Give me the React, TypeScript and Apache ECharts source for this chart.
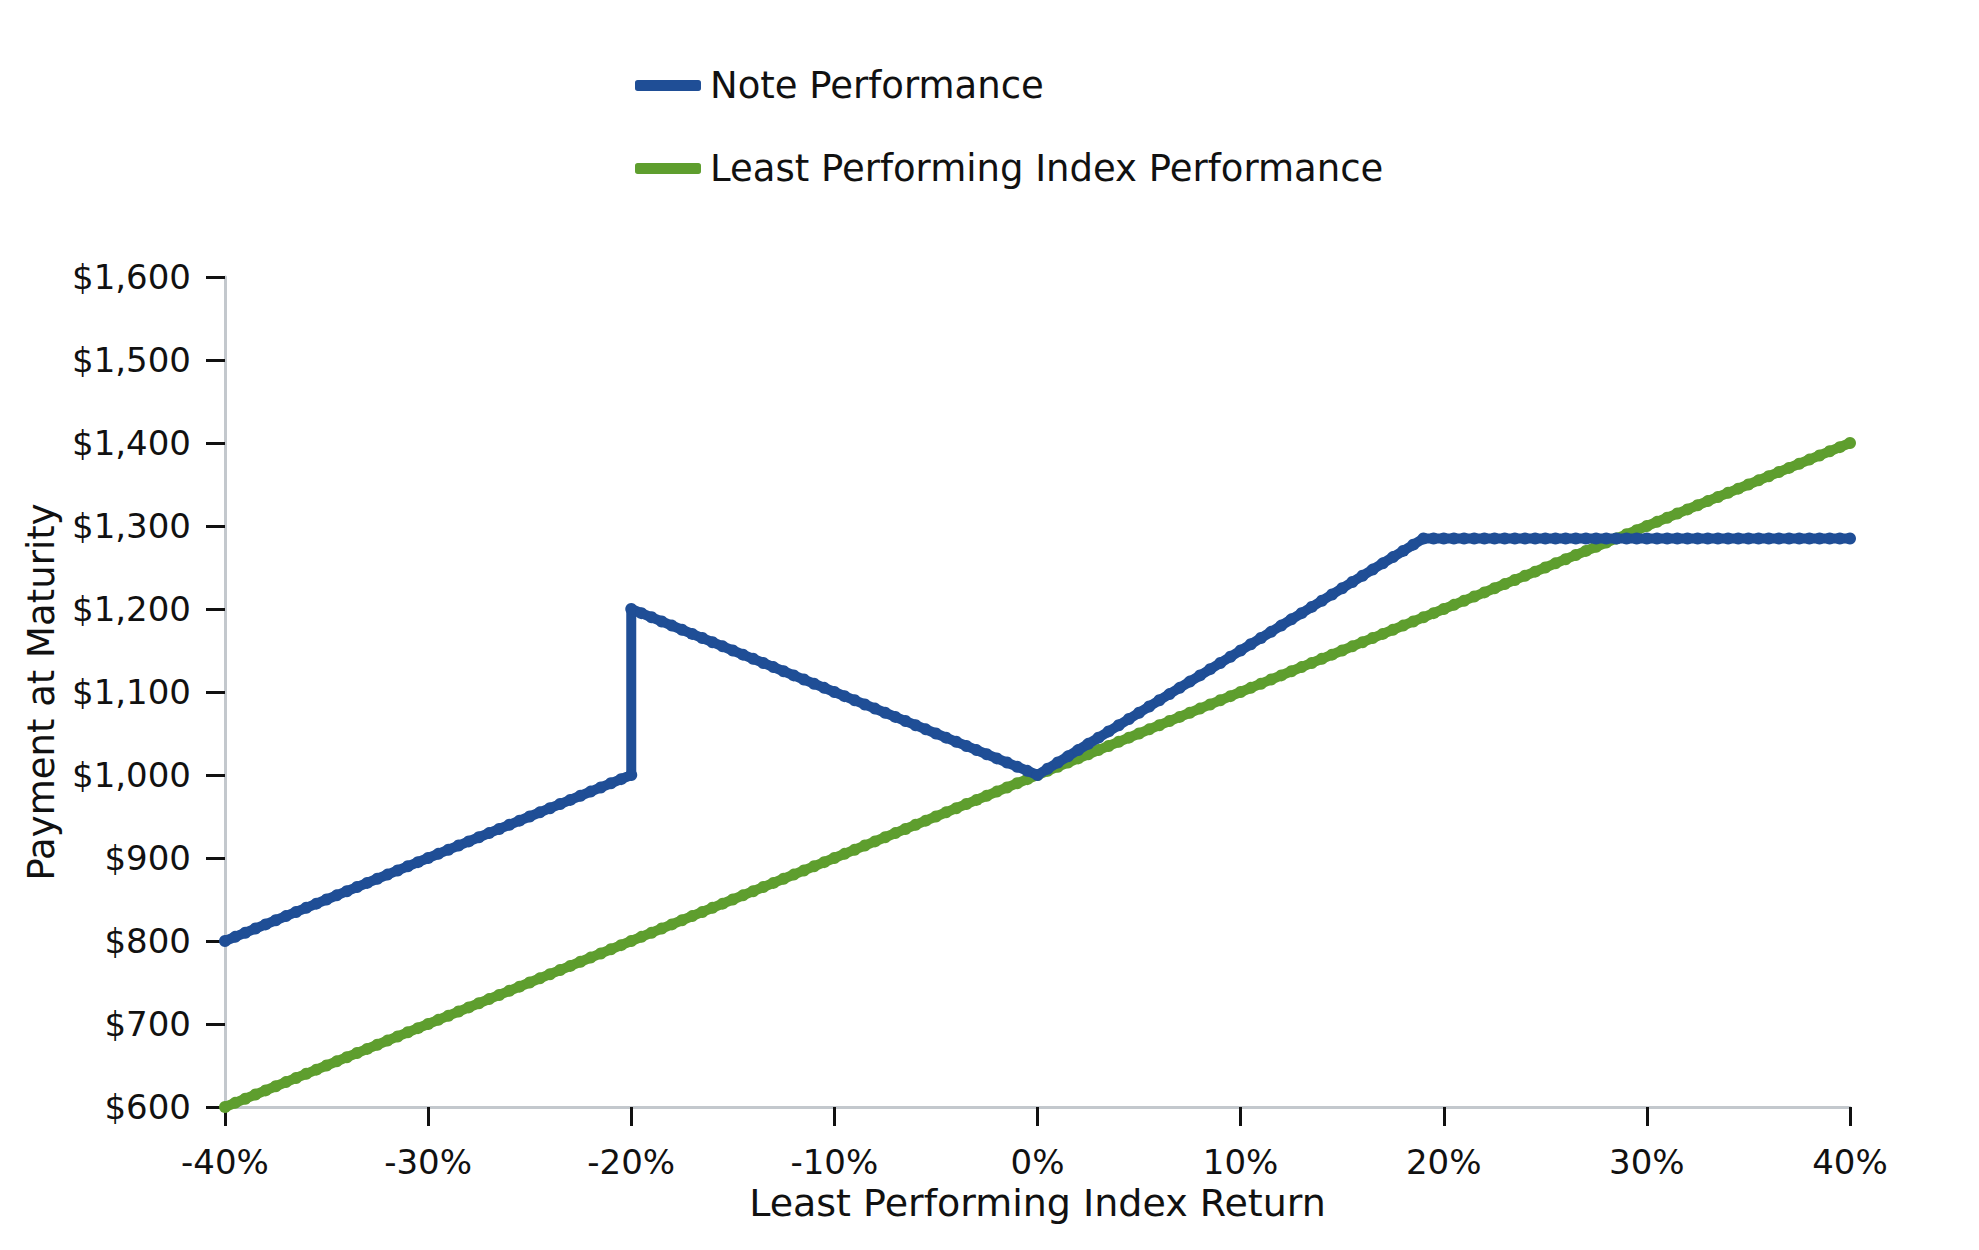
import React, { useEffect, useRef } from "react";
import * as echarts from "echarts";

const xValues = [
  -40,-39.5,-39,-38.5,-38,-37.5,-37,-36.5,-36,-35.5,-35,-34.5,-34,-33.5,-33,-32.5,-32,-31.5,-31,-30.5,
  -30,-29.5,-29,-28.5,-28,-27.5,-27,-26.5,-26,-25.5,-25,-24.5,-24,-23.5,-23,-22.5,-22,-21.5,-21,-20.5,
  -20,-19.5,-19,-18.5,-18,-17.5,-17,-16.5,-16,-15.5,-15,-14.5,-14,-13.5,-13,-12.5,-12,-11.5,-11,-10.5,
  -10,-9.5,-9,-8.5,-8,-7.5,-7,-6.5,-6,-5.5,-5,-4.5,-4,-3.5,-3,-2.5,-2,-1.5,-1,-0.5,
  0,0.5,1,1.5,2,2.5,3,3.5,4,4.5,5,5.5,6,6.5,7,7.5,8,8.5,9,9.5,
  10,10.5,11,11.5,12,12.5,13,13.5,14,14.5,15,15.5,16,16.5,17,17.5,18,18.5,19,19.5,
  20,20.5,21,21.5,22,22.5,23,23.5,24,24.5,25,25.5,26,26.5,27,27.5,28,28.5,29,29.5,
  30,30.5,31,31.5,32,32.5,33,33.5,34,34.5,35,35.5,36,36.5,37,37.5,38,38.5,39,39.5,40,
];

const indexValues = [
  600,605,610,615,620,625,630,635,640,645,650,655,660,665,670,675,680,685,690,695,
  700,705,710,715,720,725,730,735,740,745,750,755,760,765,770,775,780,785,790,795,
  800,805,810,815,820,825,830,835,840,845,850,855,860,865,870,875,880,885,890,895,
  900,905,910,915,920,925,930,935,940,945,950,955,960,965,970,975,980,985,990,995,
  1000,1005,1010,1015,1020,1025,1030,1035,1040,1045,1050,1055,1060,1065,1070,1075,1080,1085,1090,1095,
  1100,1105,1110,1115,1120,1125,1130,1135,1140,1145,1150,1155,1160,1165,1170,1175,1180,1185,1190,1195,
  1200,1205,1210,1215,1220,1225,1230,1235,1240,1245,1250,1255,1260,1265,1270,1275,1280,1285,1290,1295,
  1300,1305,1310,1315,1320,1325,1330,1335,1340,1345,1350,1355,1360,1365,1370,1375,1380,1385,1390,1395,1400,
];

// Note payoff at each x; at x = -20% it jumps from 1000 to 1200
const noteValues = [
  800,805,810,815,820,825,830,835,840,845,850,855,860,865,870,875,880,885,890,895,
  900,905,910,915,920,925,930,935,940,945,950,955,960,965,970,975,980,985,990,995,
  1000,1195,1190,1185,1180,1175,1170,1165,1160,1155,1150,1145,1140,1135,1130,1125,1120,1115,1110,1105,
  1100,1095,1090,1085,1080,1075,1070,1065,1060,1055,1050,1045,1040,1035,1030,1025,1020,1015,1010,1005,
  1000,1007.5,1015,1022.5,1030,1037.5,1045,1052.5,1060,1067.5,1075,1082.5,1090,1097.5,1105,1112.5,1120,1127.5,1135,1142.5,
  1150,1157.5,1165,1172.5,1180,1187.5,1195,1202.5,1210,1217.5,1225,1232.5,1240,1247.5,1255,1262.5,1270,1277.5,1285,1285,
  1285,1285,1285,1285,1285,1285,1285,1285,1285,1285,1285,1285,1285,1285,1285,1285,1285,1285,1285,1285,
  1285,1285,1285,1285,1285,1285,1285,1285,1285,1285,1285,1285,1285,1285,1285,1285,1285,1285,1285,1285,1285,
];

const jumpX = -20;
const jumpY = 1200;

const font = "DejaVu Sans";

export default function App() {
  const ref = useRef<HTMLDivElement>(null);
  useEffect(() => {
    const chart = echarts.init(ref.current!, null, { renderer: "svg" });
    const note: number[][] = [];
    xValues.forEach((x, i) => {
      note.push([x, noteValues[i]]);
      if (x === jumpX) note.push([jumpX, jumpY]);
    });
    const idx = xValues.map((x, i) => [x, indexValues[i]]);
    chart.setOption({
      animation: false,
      backgroundColor: "#fff",
      textStyle: { fontFamily: font },
      legend: {
        orient: "vertical",
        left: 622,
        top: 54,
        itemGap: 46,
        itemWidth: 66,
        itemHeight: 11,
        icon: "roundRect",
        textStyle: { fontSize: 37, color: "#111", fontFamily: font, padding: [0, 0, 0, 4] },
        data: ["Note Performance", "Least Performing Index Performance"],
      },
      grid: { left: 217, right: 121, top: 269, bottom: 135 },
      xAxis: {
        type: "value",
        min: -40,
        max: 40,
        interval: 10,
        splitLine: { show: false },
        axisLine: { lineStyle: { color: "#c3c8cd", width: 3 } },
        axisTick: { length: 19, lineStyle: { color: "#111", width: 3 } },
        axisLabel: { formatter: "{value}%", fontSize: 34, color: "#111", margin: 38, fontFamily: font },
        name: "Least Performing Index Return",
        nameLocation: "middle",
        nameGap: 74,
        nameTextStyle: { fontSize: 38, color: "#111", fontFamily: font },
      },
      yAxis: {
        type: "value",
        min: 600,
        max: 1600,
        interval: 100,
        splitLine: { show: false },
        axisLine: { show: true, onZero: false, lineStyle: { color: "#c3c8cd", width: 3 } },
        axisTick: { show: true, length: 19, lineStyle: { color: "#111", width: 3 } },
        axisLabel: {
          fontSize: 34,
          color: "#111",
          margin: 34,
          fontFamily: font,
          formatter: (v: number) => "$" + v.toLocaleString("en-US"),
        },
        name: "Payment at Maturity",
        nameLocation: "middle",
        nameGap: 165,
        nameTextStyle: { fontSize: 37, color: "#111", fontFamily: font },
      },
      series: [
        {
          name: "Least Performing Index Performance",
          type: "line",
          data: idx,
          color: "#5e9e2e",
          symbol: "circle",
          symbolSize: 12,
          lineStyle: { width: 10, color: "#5e9e2e" },
          itemStyle: { color: "#5e9e2e" },
          z: 2,
        },
        {
          name: "Note Performance",
          type: "line",
          data: note,
          color: "#1f4e96",
          symbol: "circle",
          symbolSize: 12,
          lineStyle: { width: 10, color: "#1f4e96" },
          itemStyle: { color: "#1f4e96" },
          z: 3,
        },
      ],
    });
    return () => chart.dispose();
  }, []);
  return <div ref={ref} style={{ width: 1963, height: 1234 }} />;
}
